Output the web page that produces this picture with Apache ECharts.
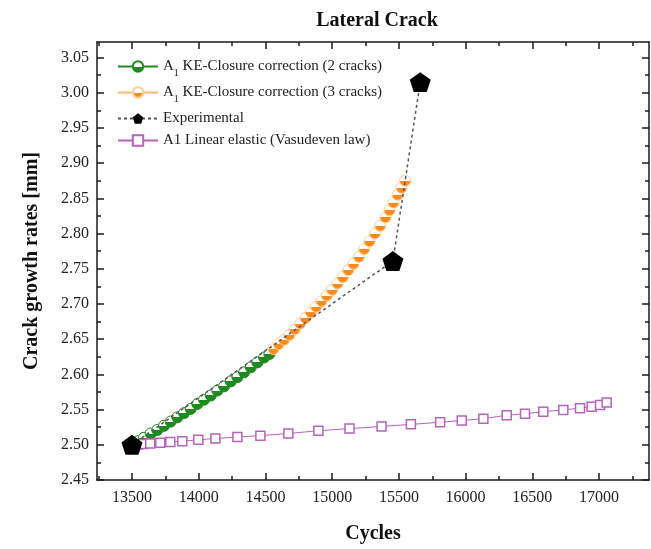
<!DOCTYPE html>
<html>
<head>
<meta charset="utf-8">
<script src="https://cdn.jsdelivr.net/npm/echarts@6/dist/echarts.min.js"></script>
<style>
  html, body { margin: 0; padding: 0; background: #fff; }
  #chart { width: 651px; height: 549px; }
</style>
</head>
<body>
<div id="chart"></div>
<script>
// A1 KE-closure correction, 2 cracks: cycles and crack length [mm]
const twoCrackCycles = [13500, 13545, 13590, 13640, 13690, 13740, 13790, 13840, 13890, 13940, 13990, 14040, 14090, 14140, 14190, 14240, 14290, 14340, 14390, 14440, 14490, 14530];
const twoCrackLength = [2.500, 2.505, 2.510, 2.516, 2.521, 2.527, 2.533, 2.539, 2.545, 2.551, 2.558, 2.564, 2.570, 2.577, 2.583, 2.590, 2.596, 2.603, 2.610, 2.617, 2.624, 2.629];

// A1 KE-closure correction, 3 cracks
const threeCrackCycles = [14560, 14600, 14640, 14680, 14720, 14760, 14800, 14840, 14880, 14920, 14960, 15000, 15040, 15080, 15120, 15160, 15200, 15240, 15280, 15320, 15360, 15400, 15430, 15460, 15490, 15520, 15547];
const threeCrackLength = [2.636, 2.643, 2.649, 2.656, 2.664, 2.672, 2.680, 2.688, 2.696, 2.704, 2.712, 2.720, 2.729, 2.738, 2.748, 2.757, 2.767, 2.778, 2.789, 2.800, 2.811, 2.823, 2.833, 2.844, 2.855, 2.865, 2.875];

// Experimental measurements
const expCycles = [13500, 15455, 15660];
const expLength = [2.500, 2.761, 3.015];

// A1 linear elastic (Vasudeven law)
const linCycles = [13500, 13547, 13585, 13637, 13712, 13787, 13877, 13997, 14125, 14290, 14462, 14672, 14897, 15130, 15370, 15590, 15809, 15971, 16133, 16308, 16445, 16582, 16732, 16857, 16944, 17007, 17057];
const linLength = [2.500, 2.5005, 2.501, 2.502, 2.503, 2.504, 2.505, 2.507, 2.509, 2.511, 2.513, 2.516, 2.520, 2.523, 2.526, 2.529, 2.532, 2.5345, 2.537, 2.542, 2.544, 2.547, 2.5495, 2.552, 2.554, 2.5565, 2.560];

// Axis ticks
const xMajorTicks = [13500, 14000, 14500, 15000, 15500, 16000, 16500, 17000];
const xMinorTicks = [13250, 13750, 14250, 14750, 15250, 15750, 16250, 16750, 17250];
const yMajorTicks = [2.45, 2.50, 2.55, 2.60, 2.65, 2.70, 2.75, 2.80, 2.85, 2.90, 2.95, 3.00, 3.05];
const yMinorTicks = [2.475, 2.525, 2.575, 2.625, 2.675, 2.725, 2.775, 2.825, 2.875, 2.925, 2.975, 3.025];

const SERIF = '"Liberation Serif", "DejaVu Serif", serif';
const GREEN = '#1f8a1f';
const ORANGE = '#ff8c1a';
const PURPLE = '#b862bf';

const pairs = (xs, ys) => xs.map((x, i) => [x, ys[i]]);

// circle with open upper half and filled lower half
const halfFill = (c) => ({
  type: 'linear', x: 0, y: 0, x2: 0, y2: 1,
  colorStops: [
    { offset: 0, color: '#ffffff' },
    { offset: 0.5, color: '#ffffff' },
    { offset: 0.5, color: c },
    { offset: 1, color: c }
  ]
});

const PENTAGON = 'path://M0,-1L0.951,-0.309L0.588,0.809L-0.588,0.809L-0.951,-0.309Z';

const X_MIN = 13238, X_MAX = 17374;
const Y_MIN = 2.45, Y_MAX = 3.072;

function xAxisDef(pos, ticks, len, labels, line) {
  return {
    type: 'value', position: pos, min: X_MIN, max: X_MAX,
    splitLine: { show: false },
    axisLine: { show: line, onZero: false, lineStyle: { color: '#1a1a1a', width: 1.5 } },
    axisTick: { show: true, inside: true, length: len, customValues: ticks, lineStyle: { color: '#1a1a1a', width: 1.5 } },
    axisLabel: labels ? { show: true, customValues: ticks, fontFamily: SERIF, fontSize: 16, color: '#222', margin: 10,
      formatter: (v) => String(Math.round(v)) } : { show: false },
    name: labels ? 'Cycles' : '',
    nameLocation: 'middle', nameGap: 44,
    nameTextStyle: { fontFamily: SERIF, fontSize: 20, fontWeight: 'bold', color: '#111' }
  };
}
function yAxisDef(pos, ticks, len, labels, line) {
  return {
    type: 'value', position: pos, min: Y_MIN, max: Y_MAX,
    splitLine: { show: false },
    axisLine: { show: line, onZero: false, lineStyle: { color: '#1a1a1a', width: 1.5 } },
    axisTick: { show: true, inside: true, length: len, customValues: ticks, lineStyle: { color: '#1a1a1a', width: 1.5 } },
    axisLabel: labels ? { show: true, customValues: ticks, fontFamily: SERIF, fontSize: 16, color: '#222', margin: 8,
      formatter: (v) => v.toFixed(2) } : { show: false },
    name: labels ? 'Crack growth rates [mm]' : '',
    nameLocation: 'middle', nameGap: 55,
    nameTextStyle: { fontFamily: SERIF, fontSize: 20, fontWeight: 'bold', color: '#111' }
  };
}

const legendRich = {
  t: { fontFamily: SERIF, fontSize: 15, color: '#222' },
  s: { fontFamily: SERIF, fontSize: 10, color: '#222', verticalAlign: 'bottom', padding: [0, 0, -4, 0] }
};

const option = {
  animation: false,
  backgroundColor: '#ffffff',
  title: {
    text: 'Lateral Crack', left: 372, top: 6, textAlign: 'center',
    textStyle: { fontFamily: SERIF, fontSize: 20, fontWeight: 'bold', color: '#111' }
  },
  grid: { left: 97, right: 2, top: 42, bottom: 66 },
  legend: {
    left: 112, top: 54, orient: 'vertical', itemGap: 7, itemWidth: 40, itemHeight: 13,
    textStyle: { fontFamily: SERIF, fontSize: 15, color: '#222', rich: legendRich },
    formatter: (name) => {
      if (name.startsWith('A_1')) return '{t|A}{s|1}{t|' + name.slice(3) + '}';
      return '{t|' + name + '}';
    }
  },
  xAxis: [
    xAxisDef('bottom', xMajorTicks, 7, true, true),
    xAxisDef('bottom', xMinorTicks, 4, false, false),
    xAxisDef('top', xMajorTicks, 7, false, true),
    xAxisDef('top', xMinorTicks, 4, false, false)
  ],
  yAxis: [
    yAxisDef('left', yMajorTicks, 7, true, true),
    yAxisDef('left', yMinorTicks, 4, false, false),
    yAxisDef('right', yMajorTicks, 7, false, true),
    yAxisDef('right', yMinorTicks, 4, false, false)
  ],
  series: [
    {
      name: 'A_1 KE-Closure correction (2 cracks)', type: 'line',
      data: pairs(twoCrackCycles, twoCrackLength),
      symbol: 'circle', symbolSize: 11,
      lineStyle: { color: GREEN, width: 1 },
      itemStyle: { color: halfFill(GREEN), borderColor: GREEN, borderWidth: 1 },
      z: 3
    },
    {
      name: 'A_1 KE-Closure correction (3 cracks)', type: 'line',
      data: pairs(threeCrackCycles, threeCrackLength),
      symbol: 'circle', symbolSize: 11,
      lineStyle: { color: '#ffb870', width: 1 },
      itemStyle: { color: halfFill(ORANGE), borderColor: '#ffcc99', borderWidth: 1 },
      z: 3
    },
    {
      name: 'Experimental', type: 'line',
      data: pairs(expCycles, expLength),
      symbol: PENTAGON, symbolSize: 21, symbolKeepAspect: true,
      lineStyle: { color: '#555555', width: 1.5, type: [3, 3] },
      itemStyle: { color: '#000000' },
      z: 4
    },
    {
      name: 'A1 Linear elastic (Vasudeven law)', type: 'line',
      data: pairs(linCycles, linLength),
      symbol: 'rect', symbolSize: 9,
      lineStyle: { color: PURPLE, width: 1 },
      itemStyle: { color: '#ffffff', borderColor: PURPLE, borderWidth: 1.5 },
      z: 3
    }
  ]
};

const chart = echarts.init(document.getElementById('chart'), null, { renderer: 'canvas' });
chart.setOption(option);
</script>
</body>
</html>
